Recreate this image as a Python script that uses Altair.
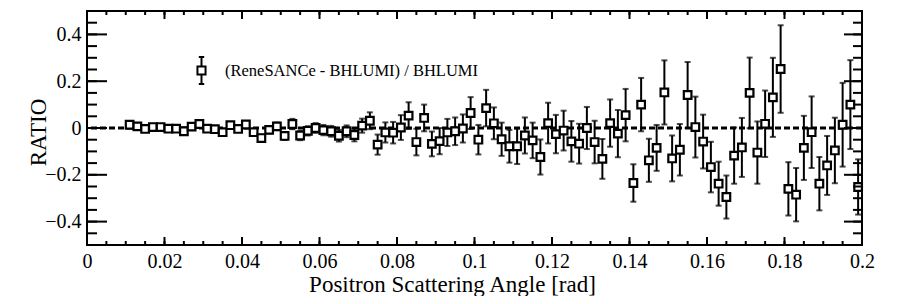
import altair as alt
import pandas as pd

# ---- data ----
angle = [0.011, 0.013, 0.015, 0.017, 0.019, 0.021, 0.023, 0.025, 0.027, 0.029,
         0.031, 0.033, 0.035, 0.037, 0.039, 0.041, 0.043, 0.045, 0.047, 0.049,
         0.051, 0.053, 0.055, 0.057, 0.059, 0.061, 0.063, 0.065, 0.067, 0.069,
         0.071, 0.073, 0.075, 0.077, 0.079, 0.081, 0.083, 0.085, 0.087, 0.089,
         0.091, 0.093, 0.095, 0.097, 0.099, 0.101, 0.103, 0.105, 0.107, 0.109,
         0.111, 0.113, 0.115, 0.117, 0.119, 0.121, 0.123, 0.125, 0.127, 0.129,
         0.131, 0.133, 0.135, 0.137, 0.139, 0.141, 0.143, 0.145, 0.147, 0.149,
         0.151, 0.153, 0.155, 0.157, 0.159, 0.161, 0.163, 0.165, 0.167, 0.169,
         0.171, 0.173, 0.175, 0.177, 0.179, 0.181, 0.183, 0.185, 0.187, 0.189,
         0.191, 0.193, 0.195, 0.197, 0.199]

ratio = [0.014, 0.007, -0.004, 0.004, 0.004, -0.003, -0.003, -0.014, 0.006, 0.017,
         -0.003, -0.005, -0.018, 0.012, -0.004, 0.015, -0.018, -0.043, -0.008, 0.007,
         -0.034, 0.017, -0.032, -0.012, 0.000, -0.009, -0.014, -0.033, -0.014, -0.030,
         0.010, 0.031, -0.071, -0.019, -0.020, 0.002, 0.053, -0.060, 0.043, -0.068,
         -0.056, -0.019, -0.014, -0.002, 0.064, -0.050, 0.085, 0.020, -0.048, -0.078,
         -0.078, -0.032, -0.053, -0.124, 0.021, -0.026, -0.011, -0.057, -0.067, 0.000,
         -0.060, -0.132, 0.021, -0.024, 0.055, -0.235, 0.100, -0.138, -0.085, 0.152,
         -0.130, -0.093, 0.141, 0.004, -0.058, -0.167, -0.238, -0.295, -0.118, -0.083,
         0.150, -0.105, 0.018, 0.131, 0.252, -0.260, -0.285, -0.085, -0.018, -0.238,
         -0.160, -0.096, 0.014, 0.100, -0.252]

err = [0.006, 0.006, 0.006, 0.007, 0.007, 0.007, 0.008, 0.008, 0.008, 0.009,
       0.009, 0.009, 0.010, 0.010, 0.011, 0.012, 0.013, 0.014, 0.015, 0.016,
       0.017, 0.022, 0.020, 0.020, 0.021, 0.022, 0.023, 0.025, 0.025, 0.027,
       0.030, 0.036, 0.043, 0.043, 0.046, 0.053, 0.057, 0.057, 0.057, 0.053,
       0.056, 0.058, 0.059, 0.060, 0.068, 0.063, 0.078, 0.068, 0.071, 0.070,
       0.076, 0.077, 0.076, 0.075, 0.087, 0.082, 0.085, 0.087, 0.085, 0.090,
       0.091, 0.085, 0.101, 0.101, 0.112, 0.080, 0.114, 0.092, 0.098, 0.137,
       0.098, 0.110, 0.141, 0.130, 0.115, 0.108, 0.094, 0.092, 0.120, 0.126,
       0.151, 0.133, 0.142, 0.169, 0.187, 0.114, 0.114, 0.137, 0.153, 0.114,
       0.126, 0.140, 0.179, 0.190, 0.118]

x_labels = [0, 0.02, 0.04, 0.06, 0.08, 0.1, 0.12, 0.14, 0.16, 0.18, 0.2]
y_labels = [-0.4, -0.2, 0, 0.2, 0.4]
series_name = "(ReneSANCe - BHLUMI) / BHLUMI"
x_title = "Positron Scattering Angle [rad]"
y_title = "RATIO"

# ---- layout / style ----
W, H = 775, 234
FONT = "Liberation Serif"
x_minor = [round(k * 0.005, 3) for k in range(41)]
y_minor = [round(-0.5 + k * 0.05, 3) for k in range(21)]

df = pd.DataFrame({"angle": angle, "ratio": ratio, "err": err})
df["lo"] = df["ratio"] - df["err"]
df["hi"] = df["ratio"] + df["err"]
df["series"] = series_name

xs = alt.Scale(domain=[0, 0.2], nice=False, zero=False)
ys = alt.Scale(domain=[-0.5, 0.5], nice=False, zero=False)

x_axis = alt.Axis(values=x_labels, format=".2~f", title=x_title, ticks=False, tickSize=0,
                  domain=False, grid=False, labelFont=FONT, labelFontSize=20,
                  labelColor="black", labelPadding=6, labelFlush=False,
                  titleFont=FONT, titleFontSize=23, titleFontWeight="normal",
                  titleColor="black", titleBaseline="alphabetic", titleY=46,
                  titleX=365, titleAlign="center")
y_axis = alt.Axis(values=y_labels, format=".1~f", title=y_title, ticks=False, tickSize=0,
                  domain=False, grid=False, labelFont=FONT, labelFontSize=20,
                  labelColor="black", labelPadding=6,
                  titleFont=FONT, titleFontSize=23, titleFontWeight="normal",
                  titleColor="black", titleAngle=270, titleX=-49, titleY=121,
                  titleAlign="center", titleBaseline="middle")


def X(field):
    return alt.X(field, scale=xs, axis=x_axis)


def Y(field):
    return alt.Y(field, scale=ys, axis=y_axis)


PATH = ("M-0.3,-0.3H0.3V0.3H-0.3Z M0,-0.3V-1 M-0.2,-1H0.2 "
        "M0,0.3V1 M-0.2,1H0.2")

base = alt.Chart(df)

zero_line = alt.Chart(pd.DataFrame({"y": [0]})).mark_rule(
    color="black", strokeWidth=3, strokeDash=[6, 3]).encode(y=Y("y:Q"))

bars = base.mark_rule(color="black", strokeWidth=2, clip=True).encode(
    x=X("angle:Q"), y=Y("lo:Q"), y2="hi:Q")

cap_lo = base.mark_tick(color="black", orient="horizontal", size=6, thickness=2,
                        clip=True).encode(x=X("angle:Q"), y=Y("lo:Q"))
cap_hi = base.mark_tick(color="black", orient="horizontal", size=6, thickness=2,
                        clip=True).encode(x=X("angle:Q"), y=Y("hi:Q"))

points = base.mark_point(shape="square", filled=False, fill="white", fillOpacity=1,
                         strokeWidth=2.2, size=58, opacity=1).encode(
    x=X("angle:Q"),
    y=Y("ratio:Q"),
    color=alt.Color("series:N", scale=alt.Scale(range=["black"]),
                    legend=alt.Legend(title=None, orient="none", legendX=100, legendY=45,
                                      symbolType=PATH, symbolSize=729,
                                      symbolStrokeWidth=2, symbolStrokeColor="black",
                                      labelFont=FONT, labelFontSize=16.5, labelLimit=0,
                                      labelColor="black", labelOffset=9, padding=0)))


def yticks(vals, length, side):
    d = pd.DataFrame({"v": vals})
    xa, xb = (0, length) if side == "left" else (W, W - length)
    return alt.Chart(d).mark_rule(color="black", strokeWidth=2).encode(
        y=Y("v:Q"), x=alt.value(xa), x2=alt.value(xb))


def xticks(vals, length, side):
    d = pd.DataFrame({"v": vals})
    ya, yb = (H, H - length) if side == "bottom" else (0, length)
    return alt.Chart(d).mark_rule(color="black", strokeWidth=2).encode(
        x=X("v:Q"), y=alt.value(ya), y2=alt.value(yb))


tick_layers = [
    yticks(y_minor, 10, "left"), yticks(y_labels, 20, "left"),
    yticks(y_minor, 9, "right"), yticks(y_labels, 18, "right"),
    xticks(x_minor, 4, "bottom"), xticks(x_labels, 8, "bottom"),
    xticks(x_minor, 4, "top"), xticks(x_labels, 8, "top"),
]

chart = alt.layer(zero_line, bars, cap_lo, cap_hi, points, *tick_layers).properties(
    width=W, height=H,
    padding={"left": 79, "top": 3, "right": 30, "bottom": 51},
    autosize=alt.AutoSizeParams(type="none"),
    background="white",
).configure_view(stroke="black", strokeWidth=2)

chart.save("out.html", embed_options={"renderer": "svg", "actions": False})
